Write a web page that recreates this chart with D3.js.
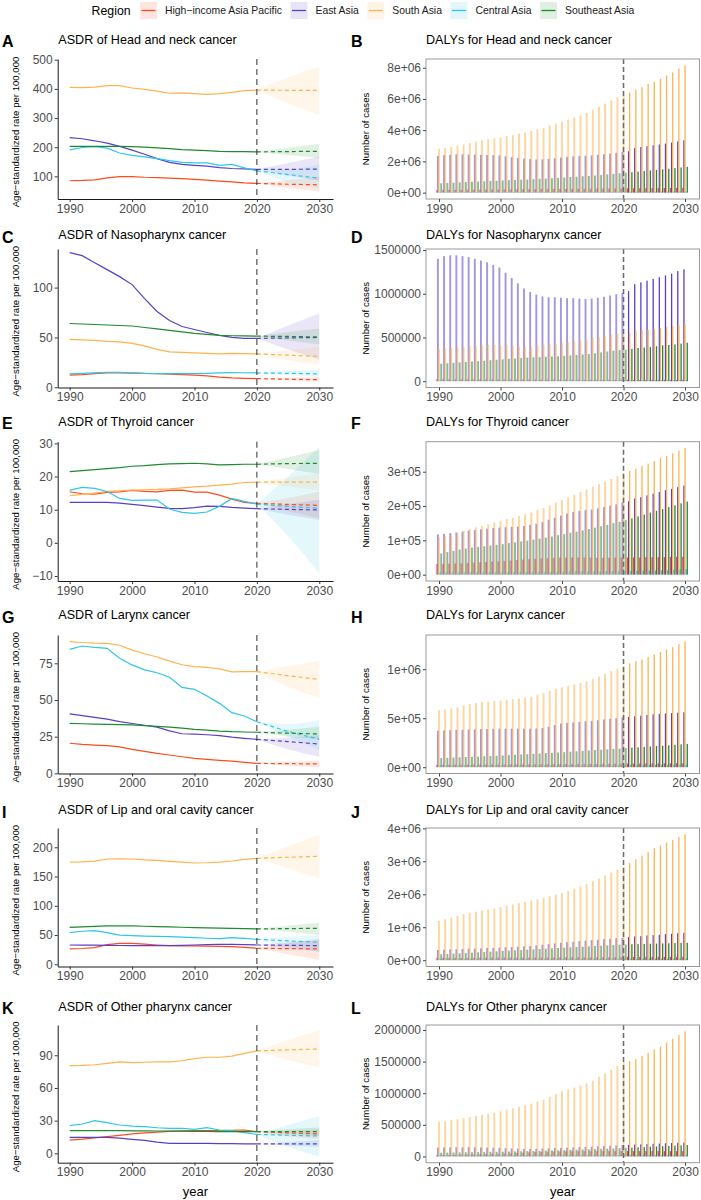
<!DOCTYPE html>
<html><head><meta charset="utf-8">
<script src="https://cdn.jsdelivr.net/npm/d3@7"></script>
<style>
body{margin:0;background:#fff}
text{font-family:"Liberation Sans",Arial,Helvetica,sans-serif}
</style>
</head><body>
<svg id="c" width="701" height="1200"></svg>
<script>
// ================= DATA =================
const regions = ["High−income Asia Pacific", "East Asia", "South Asia", "Central Asia", "Southeast Asia"];
const regionColors = ["#FF4A1F", "#5B3FC6", "#FFB24F", "#2EC6EA", "#1E8B2F"];
const histYears = [1990,1992,1994,1996,1998,2000,2002,2004,2006,2008,2010,2012,2014,2016,2018,2020];
const forecastYears = [2020, 2025, 2030];
const barYears = d3.range(1990, 2031);
const splitYear = 2020;

const lineTitles = ["ASDR of Head and neck cancer","ASDR of Nasopharynx cancer","ASDR of Thyroid cancer","ASDR of Larynx cancer","ASDR of Lip and oral cavity cancer","ASDR of Other pharynx cancer"];
const barTitles = ["DALYs for Head and neck cancer","DALYs for Nasopharynx cancer","DALYs for Thyroid cancer","DALYs for Larynx cancer","DALYs for Lip and oral cavity cancer","DALYs for Other pharynx cancer"];
const leftLetters = ["A","C","E","G","I","K"];
const rightLetters = ["B","D","F","H","J","L"];

const xTickValues = [1990, 2000, 2010, 2020, 2030];
const lineYTicks = [[100,200,300,400,500],[0,50,100],[-10,0,10,20,30],[0,25,50,75],[0,50,100,150,200],[0,30,60,90]];
const lineYDomains = [[22.4,502.4],[-0.2,138.7],[-11.5,30.5],[-0.1,94.3],[-3.8,233],[-8.6,117.8]];
const barYTicks = [[0,2e6,4e6,6e6,8e6],[0,5e5,1e6,1.5e6],[0,1e5,2e5,3e5],[0,5e5,1e6],[0,1e6,2e6,3e6,4e6],[0,5e5,1e6,1.5e6,2e6]];
const barTickLabels = [["0e+00","2e+06","4e+06","6e+06","8e+06"],["0","500000","1000000","1500000"],["0e+00","1e+05","2e+05","3e+05"],["0e+00","5e+05","1e+06"],["0e+00","1e+06","2e+06","3e+06","4e+06"],["0","500000","1000000","1500000","2000000"]];
const barUnits = [1e6, 1e6, 1e5, 1e5, 1e6, 1e5];

// ASDR observed (rows: HIAP, East Asia, South Asia, Central Asia, Southeast Asia), at histYears
const asdrHeadNeck = [
 [85,86,88,95,99,99,97,96,94,92,90,87,84,81,78,76],
 [233,229,222,214,203,190,176,161,148,141,138,135,130,127,126,124],
 [405,404,406,411,411,403,398,392,385,386,384,381,384,388,394,396],
 [191,199,202,197,180,172,167,161,154,148,146,146,138,141,129,119],
 [203,203,203,203,203,202,200,198,195,192,190,188,186,185,185,184]];
const asdrNaso = [
 [12.3,12.8,13.8,14.5,14.5,14.3,14.0,13.6,13.2,12.8,12.2,11.4,10.3,9.5,9.0,8.7],
 [135,132,125,118,111,103,89,76,67,61,58,55,52,50,49,49],
 [48,47.5,47,46,45.5,44,41.5,38,35.5,35,34.5,34,33.5,34,33.8,33.5],
 [13.5,14,14.5,15,15,14.5,14,13.8,13.7,13.7,13.7,14,14.5,14.8,14.6,14.4],
 [64,63.5,63,62.5,62,61.5,60,58.5,57,55.5,54,53,52,51.7,51.5,51.3]];
const asdrThyroid = [
 [15.4,14.8,14.7,15.2,15.4,15.8,15.5,15.4,15.8,15.9,15.3,15.3,14.4,13.2,12.2,11.9],
 [12.2,12.2,12.2,12.2,12.0,11.6,11.2,10.8,10.4,10.3,10.6,11.1,11.0,10.7,10.5,10.3],
 [14.2,14.6,15.0,15.5,15.7,15.9,16.0,16.1,16.3,16.6,16.9,17.1,17.4,17.7,18.2,18.3],
 [15.9,16.7,16.4,15.5,13.4,12.8,12.9,12.9,10.2,9.2,8.9,9.3,11.0,13.4,12.5,11.7],
 [21.5,21.8,22.1,22.4,22.7,23.1,23.3,23.6,23.8,23.9,24.0,23.8,23.5,23.6,23.7,23.7]];
const asdrLarynx = [
 [20.5,19.8,19.3,18.9,18.0,16.4,15.0,13.6,12.5,11.3,10.2,9.5,8.9,8.3,7.5,6.8],
 [40.5,39.3,38.2,36.9,35.3,34.0,32.8,31.5,29.0,27.0,26.8,26.3,25.7,24.7,23.9,23.2],
 [89.8,89.2,88.8,88.6,87.3,84.0,81.5,79.3,76.5,74.0,72.7,72.3,71.2,69.2,69.3,69.3],
 [84.5,86.8,85.9,85.2,78.4,73.9,70.5,68.6,65.5,58.6,57.3,52.7,47.7,41.4,39.1,35.2],
 [34,33.8,33.6,33.4,33.2,33.0,32.5,32.0,31.5,30.8,30.0,29.4,28.8,28.4,28.2,28.0]];
const asdrLipOral = [
 [26.2,27,28.5,33.5,35.9,35.9,34.5,33,31.9,31.5,31.3,31,30.6,30.2,28.8,27.4],
 [33,32.8,32.6,32.3,32.1,31.9,31.9,31.9,31.9,32.4,33,33.6,34.2,34.0,33.5,33],
 [174.4,175.2,176.5,180,180.3,180,178.5,177.5,176,174.8,173.2,173.6,174.5,176.6,179.5,181.2],
 [54,56.5,57.5,54,50,49,48.2,47.6,47.2,46.4,45.6,44.5,43.8,45.6,44.4,42.7],
 [63.2,64,64.8,65.5,65.5,65.5,65,64.4,63.8,63.3,62.7,62.2,61.7,61.3,60.9,60.4]];
const asdrOtherPharynx = [
 [12.2,13.0,14.2,15.3,16.5,17.8,18.7,19.5,20.2,20.6,20.8,20.8,20.8,21.0,21.4,19.9],
 [14.7,14.7,14.7,14.7,14.0,12.9,11.9,10.3,9.2,9.2,9.2,9.1,9.0,8.9,8.7,8.6],
 [80.5,80.7,81.3,82.5,83.9,83.3,83.6,84.0,84.0,85,86.9,88.2,88.2,89.2,91.8,94],
 [25.4,26.9,30,28.2,26,24.9,24.5,23.5,23,23,22,23.6,21.4,20.8,19,17.4],
 [20.8,20.8,20.8,20.8,20.8,20.7,20.6,20.5,20.4,20.3,20.2,20.1,20.0,20.0,20.0,19.9]];

// ASDR forecast mean / lower / upper at 2025 and 2030
const fcHeadNeck = [[73,71],[124,125],[395,395],[106,94],[185,186]];
const loHeadNeck = [[60,48],[102,85],[350,310],[80,58],[173,163]];
const hiHeadNeck = [[87,98],[146,168],[440,477],[124,140],[198,212]];
const fcNaso = [[8.1,7.6],[49.5,50],[32.2,31],[14,13.5],[51,50.5]];
const loNaso = [[7,5.5],[38,28],[27,22.5],[12,10.5],[47,43]];
const hiNaso = [[9.3,10],[62,74],[37,41],[16,17.5],[55.5,59]];
const fcThyroid = [[11.6,11.3],[10.1,9.9],[18.3,18.3],[11.0,10.4],[23.9,24]];
const loThyroid = [[9.5,7.4],[8.5,6.9],[17,15.8],[2,-9.2],[22.3,20.8]];
const hiThyroid = [[13.5,15.4],[11.7,13],[19.6,21],[20,29],[25.8,28]];
const fcLarynx = [[6.6,6.4],[21.6,20],[66.5,64],[28.5,23.2],[27.4,26.8]];
const loLarynx = [[5.3,4.1],[16.5,11.4],[59,51.8],[25,16],[25.2,23.4]];
const hiLarynx = [[7.8,8.6],[24.5,26],[73,76.8],[33.5,36.4],[29.8,31.8]];
const fcLipOral = [[26.8,26.2],[32.4,31.9],[183,184.6],[40,37.6],[61,61.5]];
const loLipOral = [[17,7.4],[27,21.6],[164,147],[31,21.6],[55.5,50]];
const hiLipOral = [[36,44],[37.5,41.6],[202,221],[47,50],[66,71]];
const fcOtherPharynx = [[18.8,17.8],[8.6,8.6],[95,95.8],[16.6,15.9],[19.9,19.9]];
const loOtherPharynx = [[15.5,12.9],[7.2,6.1],[86,79],[6,-3],[17.8,15.9]];
const hiOtherPharynx = [[21,22],[10.3,12.2],[104,113],[26,33.7],[22,23.6]];

// DALYs, 1990..2030 (in barUnits)
const dalyHeadNeck = [
 [0.17,0.17,0.18,0.18,0.18,0.19,0.19,0.19,0.2,0.2,0.2,0.21,0.21,0.21,0.22,0.22,0.22,0.23,0.23,0.23,0.24,0.24,0.24,0.25,0.25,0.25,0.26,0.26,0.26,0.27,0.27,0.27,0.28,0.28,0.28,0.29,0.29,0.29,0.3,0.3,0.3],
 [2.35,2.4,2.43,2.45,2.45,2.44,2.43,2.42,2.41,2.4,2.38,2.33,2.27,2.22,2.18,2.15,2.12,2.13,2.16,2.2,2.25,2.29,2.32,2.34,2.36,2.38,2.42,2.46,2.5,2.55,2.6,2.65,2.85,2.92,2.97,3.03,3.08,3.14,3.2,3.28,3.35],
 [2.8,2.85,2.92,3.0,3.08,3.17,3.27,3.35,3.42,3.48,3.55,3.62,3.68,3.78,3.85,3.95,4.05,4.15,4.3,4.42,4.55,4.68,4.82,4.95,5.1,5.3,5.5,5.7,5.9,6.1,6.25,6.4,6.6,6.75,6.95,7.1,7.3,7.5,7.7,7.95,8.15],
 [0.05,0.05,0.05,0.05,0.05,0.05,0.05,0.05,0.05,0.05,0.05,0.05,0.05,0.05,0.05,0.05,0.05,0.05,0.05,0.05,0.05,0.05,0.05,0.06,0.06,0.06,0.06,0.06,0.06,0.06,0.06,0.06,0.06,0.06,0.06,0.06,0.07,0.07,0.07,0.07,0.07],
 [0.6,0.62,0.64,0.66,0.68,0.7,0.71,0.73,0.75,0.76,0.78,0.8,0.81,0.83,0.84,0.86,0.88,0.9,0.92,0.95,0.97,1.0,1.02,1.05,1.07,1.1,1.13,1.17,1.2,1.24,1.28,1.31,1.35,1.38,1.42,1.45,1.49,1.53,1.57,1.61,1.65]];
const dalyNaso = [
 [0.022,0.022,0.022,0.022,0.021,0.021,0.021,0.021,0.02,0.02,0.02,0.02,0.019,0.019,0.019,0.019,0.018,0.018,0.018,0.018,0.017,0.017,0.017,0.017,0.017,0.016,0.016,0.016,0.016,0.016,0.016,0.016,0.015,0.015,0.015,0.015,0.015,0.015,0.015,0.015,0.015],
 [1.4,1.43,1.44,1.44,1.43,1.42,1.4,1.38,1.36,1.33,1.3,1.24,1.18,1.12,1.06,1.02,0.99,0.97,0.96,0.96,0.955,0.95,0.95,0.945,0.94,0.945,0.955,0.965,0.98,0.995,1.01,1.03,1.11,1.13,1.15,1.17,1.19,1.21,1.23,1.26,1.28],
 [0.37,0.375,0.38,0.385,0.39,0.4,0.405,0.41,0.415,0.415,0.41,0.41,0.405,0.395,0.39,0.395,0.405,0.415,0.425,0.43,0.44,0.445,0.455,0.47,0.48,0.495,0.505,0.52,0.53,0.54,0.55,0.555,0.575,0.585,0.59,0.6,0.61,0.62,0.63,0.64,0.65],
 [0.012,0.012,0.012,0.012,0.012,0.012,0.012,0.012,0.012,0.012,0.012,0.012,0.012,0.012,0.012,0.012,0.012,0.012,0.012,0.012,0.012,0.012,0.012,0.012,0.012,0.012,0.012,0.012,0.012,0.012,0.012,0.012,0.012,0.012,0.012,0.012,0.012,0.012,0.012,0.012,0.012],
 [0.2,0.205,0.21,0.215,0.22,0.225,0.23,0.235,0.24,0.245,0.25,0.255,0.26,0.265,0.27,0.273,0.276,0.28,0.283,0.286,0.29,0.295,0.3,0.305,0.31,0.32,0.33,0.34,0.35,0.355,0.36,0.37,0.38,0.385,0.39,0.4,0.41,0.415,0.42,0.43,0.44]];
const dalyThyroid = [
 [0.31,0.31,0.32,0.33,0.33,0.34,0.35,0.36,0.37,0.38,0.39,0.4,0.41,0.43,0.44,0.45,0.46,0.47,0.48,0.49,0.5,0.5,0.5,0.5,0.5,0.5,0.49,0.49,0.49,0.5,0.5,0.5,0.5,0.5,0.51,0.51,0.51,0.51,0.52,0.52,0.52],
 [1.17,1.19,1.21,1.23,1.25,1.28,1.3,1.32,1.34,1.36,1.37,1.38,1.39,1.4,1.42,1.45,1.48,1.53,1.6,1.66,1.72,1.78,1.83,1.86,1.88,1.9,1.93,1.97,2.01,2.05,2.1,2.14,2.22,2.26,2.31,2.36,2.41,2.46,2.5,2.55,2.6],
 [1.08,1.12,1.17,1.22,1.28,1.33,1.38,1.42,1.47,1.52,1.57,1.62,1.66,1.71,1.76,1.81,1.88,1.95,2.02,2.1,2.17,2.25,2.33,2.41,2.48,2.56,2.64,2.72,2.79,2.87,2.94,3.02,3.09,3.17,3.24,3.31,3.39,3.46,3.54,3.61,3.69],
 [0.07,0.07,0.07,0.07,0.07,0.07,0.07,0.07,0.07,0.07,0.07,0.07,0.07,0.07,0.08,0.08,0.08,0.08,0.08,0.08,0.08,0.09,0.09,0.09,0.09,0.09,0.09,0.1,0.1,0.1,0.1,0.11,0.11,0.11,0.12,0.12,0.13,0.13,0.14,0.15,0.16],
 [0.62,0.66,0.69,0.73,0.76,0.79,0.81,0.83,0.85,0.87,0.89,0.92,0.94,0.97,0.99,1.02,1.05,1.08,1.11,1.15,1.18,1.22,1.25,1.29,1.33,1.37,1.41,1.45,1.5,1.54,1.59,1.64,1.7,1.75,1.81,1.86,1.91,1.97,2.02,2.08,2.13]];
const dalyLarynx = [
 [0.25,0.25,0.25,0.26,0.26,0.26,0.27,0.27,0.27,0.28,0.28,0.28,0.29,0.29,0.29,0.3,0.3,0.3,0.31,0.31,0.31,0.32,0.32,0.33,0.33,0.34,0.34,0.35,0.35,0.36,0.36,0.37,0.37,0.38,0.38,0.38,0.39,0.39,0.39,0.4,0.4],
 [3.72,3.75,3.78,3.8,3.82,3.84,3.86,3.88,3.9,3.91,3.93,3.93,3.93,3.93,3.93,3.93,3.95,4.0,4.13,4.3,4.46,4.52,4.57,4.62,4.68,4.73,4.8,4.87,4.94,5.0,5.07,5.13,5.2,5.26,5.33,5.4,5.44,5.48,5.52,5.56,5.6],
 [5.8,5.9,6.0,6.1,6.3,6.45,6.55,6.65,6.7,6.75,6.8,6.9,6.95,7.0,7.1,7.2,7.4,7.6,7.8,8.0,8.15,8.3,8.45,8.6,8.75,9.0,9.25,9.5,9.8,10.05,10.3,10.6,10.8,11.0,11.25,11.5,11.75,12.0,12.25,12.55,12.85],
 [0.2,0.2,0.2,0.2,0.2,0.2,0.2,0.2,0.2,0.21,0.21,0.21,0.21,0.21,0.21,0.21,0.21,0.22,0.22,0.22,0.22,0.22,0.22,0.22,0.23,0.23,0.23,0.23,0.23,0.23,0.24,0.24,0.24,0.24,0.24,0.24,0.25,0.25,0.25,0.25,0.25],
 [0.94,0.96,0.99,1.01,1.04,1.06,1.09,1.12,1.14,1.17,1.2,1.23,1.27,1.3,1.33,1.37,1.4,1.44,1.47,1.51,1.54,1.58,1.62,1.66,1.7,1.74,1.78,1.82,1.86,1.9,1.95,1.99,2.03,2.07,2.11,2.16,2.2,2.24,2.29,2.33,2.38]];
const dalyLipOral = [
 [0.07,0.07,0.07,0.07,0.07,0.07,0.07,0.08,0.08,0.08,0.08,0.08,0.08,0.08,0.08,0.08,0.08,0.08,0.08,0.08,0.09,0.09,0.09,0.09,0.09,0.09,0.09,0.09,0.09,0.09,0.09,0.1,0.1,0.1,0.1,0.1,0.1,0.1,0.1,0.1,0.1],
 [0.31,0.32,0.33,0.33,0.34,0.35,0.35,0.36,0.37,0.37,0.38,0.39,0.4,0.41,0.42,0.43,0.45,0.47,0.49,0.51,0.53,0.55,0.56,0.58,0.59,0.61,0.62,0.64,0.65,0.67,0.68,0.7,0.72,0.73,0.75,0.76,0.77,0.79,0.8,0.82,0.83],
 [1.19,1.24,1.29,1.34,1.39,1.44,1.47,1.5,1.54,1.57,1.61,1.65,1.69,1.73,1.77,1.81,1.85,1.89,1.94,1.99,2.04,2.1,2.17,2.24,2.31,2.39,2.48,2.57,2.66,2.75,2.84,2.95,3.06,3.17,3.28,3.4,3.48,3.57,3.65,3.74,3.82],
 [0.05,0.05,0.05,0.05,0.05,0.05,0.05,0.05,0.05,0.05,0.05,0.05,0.05,0.05,0.05,0.05,0.05,0.05,0.05,0.05,0.05,0.05,0.05,0.05,0.05,0.05,0.05,0.05,0.05,0.05,0.05,0.05,0.05,0.05,0.05,0.05,0.05,0.05,0.05,0.05,0.05],
 [0.18,0.19,0.2,0.21,0.22,0.23,0.24,0.25,0.26,0.27,0.28,0.29,0.3,0.31,0.32,0.33,0.34,0.35,0.36,0.37,0.38,0.39,0.4,0.41,0.42,0.43,0.44,0.45,0.46,0.47,0.48,0.485,0.49,0.495,0.5,0.505,0.51,0.515,0.52,0.525,0.53]];
const dalyOtherPharynx = [
 [0.2,0.22,0.24,0.26,0.28,0.3,0.32,0.35,0.38,0.41,0.44,0.48,0.52,0.56,0.6,0.64,0.68,0.71,0.74,0.77,0.79,0.81,0.82,0.83,0.84,0.84,0.85,0.85,0.85,0.85,0.85,0.85,0.85,0.85,0.85,0.85,0.85,0.84,0.84,0.84,0.84],
 [1.4,1.42,1.44,1.45,1.45,1.45,1.44,1.42,1.4,1.38,1.35,1.3,1.26,1.22,1.2,1.2,1.22,1.25,1.28,1.32,1.35,1.39,1.43,1.47,1.51,1.55,1.6,1.65,1.7,1.75,1.8,1.84,1.88,1.92,1.96,2.0,2.04,2.08,2.12,2.16,2.2],
 [5.5,5.6,5.75,5.9,6.05,6.2,6.4,6.6,6.75,6.95,7.15,7.4,7.6,7.85,8.1,8.35,8.65,9.0,9.45,9.85,10.3,10.6,10.9,11.2,11.55,12.0,12.6,13.1,13.7,14.3,14.9,15.1,15.4,15.9,16.4,16.9,17.4,18.0,18.6,19.2,19.8],
 [0.25,0.25,0.25,0.25,0.25,0.25,0.25,0.24,0.24,0.24,0.24,0.24,0.24,0.23,0.23,0.23,0.23,0.23,0.23,0.22,0.22,0.22,0.22,0.22,0.22,0.21,0.21,0.21,0.21,0.21,0.21,0.21,0.2,0.2,0.2,0.2,0.2,0.2,0.2,0.2,0.2],
 [0.6,0.61,0.63,0.64,0.66,0.67,0.69,0.7,0.72,0.73,0.75,0.77,0.79,0.81,0.84,0.86,0.89,0.92,0.94,0.97,1.0,1.03,1.06,1.1,1.13,1.16,1.2,1.24,1.27,1.31,1.35,1.39,1.44,1.48,1.53,1.57,1.62,1.66,1.71,1.75,1.8]];

const asdrSets = [asdrHeadNeck, asdrNaso, asdrThyroid, asdrLarynx, asdrLipOral, asdrOtherPharynx];
const fcSets = [fcHeadNeck, fcNaso, fcThyroid, fcLarynx, fcLipOral, fcOtherPharynx];
const loSets = [loHeadNeck, loNaso, loThyroid, loLarynx, loLipOral, loOtherPharynx];
const hiSets = [hiHeadNeck, hiNaso, hiThyroid, hiLarynx, hiLipOral, hiOtherPharynx];
const dalySets = [dalyHeadNeck, dalyNaso, dalyThyroid, dalyLarynx, dalyLipOral, dalyOtherPharynx];

// ================= LAYOUT =================
const rowTitleY = [39.7, 235, 421.7, 615, 810, 1006.7];
const rowTop = [59, 249, 441.7, 635, 828, 1025];
const rowBottom = [199, 387.5, 581, 773.5, 966.5, 1162.7];
const leftX0 = 57.7, leftX1 = 333;
const rightX0 = 426, rightX1 = 699.5;
const tickColor = "#4D4D4D";
const tickFont = 12;

const svg = d3.select("#c");
const minus = v => (v < 0 ? "\u2212" + Math.abs(v) : String(v));

// Legend
(function legend(){
  const g = svg.append("g");
  g.append("text").attr("x", 91.6).attr("y", 15).attr("font-size", 12.3).attr("fill", "#000").text("Region");
  let x = 140;
  regions.forEach((r, i) => {
    g.append("rect").attr("x", x).attr("y", 2).attr("width", 17).attr("height", 17)
      .attr("fill", regionColors[i]).attr("fill-opacity", 0.14);
    g.append("line").attr("x1", x + 1.5).attr("x2", x + 15.5).attr("y1", 10.5).attr("y2", 10.5)
      .attr("stroke", regionColors[i]).attr("stroke-width", 1.3);
    const t = g.append("text").attr("x", x + 25).attr("y", 14.3).attr("font-size", 10.4).attr("fill", "#1a1a1a").text(r);
    x = x + 25 + t.node().getComputedTextLength() + 8.5;
  });
})();

function styleAxis(ax) {
  ax.selectAll("text").attr("font-size", tickFont).attr("fill", tickColor)
    .attr("font-family", '"Liberation Sans",Arial,sans-serif');
}

// Left (ASDR) panels
function drawLinePanel(k) {
  const top = rowTop[k], bot = rowBottom[k];
  const x = d3.scaleLinear().domain([1988.077, 2032.2]).range([leftX0, leftX1]);
  const y = d3.scaleLinear().domain(lineYDomains[k]).range([bot, top]);
  const g = svg.append("g");
  const hist = asdrSets[k], fc = fcSets[k], lo = loSets[k], hi = hiSets[k];

  regions.forEach((r, i) => {
    const last = hist[i][hist[i].length - 1];
    const pts = forecastYears.map((yr, j) => j === 0 ? {yr, lo: last, hi: last} : {yr, lo: lo[i][j-1], hi: hi[i][j-1]});
    g.append("path").datum(pts)
      .attr("d", d3.area().curve(d3.curveMonotoneX).x(d => x(d.yr)).y0(d => y(d.lo)).y1(d => y(d.hi)))
      .attr("fill", regionColors[i]).attr("fill-opacity", 0.13);
  });
  regions.forEach((r, i) => {
    const pts = histYears.map((yr, j) => ({yr, v: hist[i][j]}));
    g.append("path").datum(pts)
      .attr("d", d3.line().x(d => x(d.yr)).y(d => y(d.v)))
      .attr("fill", "none").attr("stroke", regionColors[i]).attr("stroke-width", 1.2);
  });
  regions.forEach((r, i) => {
    const last = hist[i][hist[i].length - 1];
    const pts = forecastYears.map((yr, j) => ({yr, v: j === 0 ? last : fc[i][j-1]}));
    g.append("path").datum(pts)
      .attr("d", d3.line().x(d => x(d.yr)).y(d => y(d.v)))
      .attr("fill", "none").attr("stroke", regionColors[i]).attr("stroke-width", 1.2)
      .attr("stroke-dasharray", "4,3");
  });
  g.append("line").attr("x1", x(splitYear)).attr("x2", x(splitYear)).attr("y1", top).attr("y2", bot)
    .attr("stroke", "#1a1a1a").attr("stroke-width", 0.9).attr("stroke-dasharray", "6,4");

  const ay = g.append("g").attr("transform", `translate(${leftX0},0)`)
    .call(d3.axisLeft(y).tickValues(lineYTicks[k]).tickFormat(minus).tickSize(3).tickPadding(2).tickSizeOuter(0));
  ay.select(".domain").attr("stroke", "#1a1a1a").attr("stroke-width", 1);
  ay.selectAll(".tick line").attr("stroke", "#333");
  styleAxis(ay);
  const ax = g.append("g").attr("transform", `translate(0,${bot})`)
    .call(d3.axisBottom(x).tickValues(xTickValues).tickFormat(d3.format("d")).tickSize(3).tickPadding(2).tickSizeOuter(0));
  ax.select(".domain").attr("stroke", "#1a1a1a").attr("stroke-width", 1);
  ax.selectAll(".tick line").attr("stroke", "#333");
  styleAxis(ax);

  svg.append("text").attr("x", 2).attr("y", rowTitleY[k] + 7.6).attr("font-size", 16).attr("font-weight", "bold").text(leftLetters[k]);
  svg.append("text").attr("x", 58.3).attr("y", rowTitleY[k] + 4.4).attr("font-size", 12.6).attr("fill", "#000").text(lineTitles[k]);
  svg.append("text").attr("transform", `translate(${19},${(top + bot) / 2 + 3}) rotate(-90)`)
    .attr("text-anchor", "middle").attr("font-size", 9.6).attr("fill", "#000").text("Age\u2212standardized rate per 100,000");
}

// Right (DALY) panels
function drawBarPanel(k) {
  const top = rowTop[k], bot = rowBottom[k];
  const unit = barUnits[k];
  const data = dalySets[k];
  const maxV = d3.max(data, s => d3.max(s)) * unit;
  const x = d3.scaleLinear().domain([1987.886, 2032.35]).range([rightX0, rightX1]);
  const y = d3.scaleLinear().domain([-0.05 * maxV, 1.05 * maxV]).range([bot, top]);
  const g = svg.append("g");
  const dodge = (x(1990.9) - x(1990)) / regions.length;

  regions.forEach((r, i) => {
    barYears.forEach((yr, j) => {
      const v = data[i][j] * unit;
      const hist = yr <= splitYear;
      const w = hist ? 1.9 : 1.3;
      const cx = x(yr) + (i - 2) * dodge;
      g.append("rect").attr("x", cx - w / 2).attr("width", w)
        .attr("y", y(v)).attr("height", Math.max(0, y(0) - y(v)))
        .attr("fill", regionColors[i]).attr("fill-opacity", hist ? 0.55 : 1);
    });
  });
  g.append("line").attr("x1", x(splitYear)).attr("x2", x(splitYear)).attr("y1", top).attr("y2", bot)
    .attr("stroke", "#6b6b6b").attr("stroke-width", 1.5).attr("stroke-dasharray", "5,3");
  g.append("rect").attr("x", rightX0).attr("y", top).attr("width", rightX1 - rightX0).attr("height", bot - top)
    .attr("fill", "none").attr("stroke", "#9a9a9a").attr("stroke-width", 1);

  const labels = barTickLabels[k];
  const ay = g.append("g").attr("transform", `translate(${rightX0},0)`)
    .call(d3.axisLeft(y).tickValues(barYTicks[k]).tickFormat((d, i) => labels[i]).tickSize(3).tickPadding(2).tickSizeOuter(0));
  ay.select(".domain").remove();
  ay.selectAll(".tick line").attr("stroke", "#444");
  styleAxis(ay);
  const ax = g.append("g").attr("transform", `translate(0,${bot})`)
    .call(d3.axisBottom(x).tickValues(xTickValues).tickFormat(d3.format("d")).tickSize(3).tickPadding(2).tickSizeOuter(0));
  ax.select(".domain").remove();
  ax.selectAll(".tick line").attr("stroke", "#444");
  styleAxis(ax);

  svg.append("text").attr("x", 351).attr("y", rowTitleY[k] + 7.6).attr("font-size", 16).attr("font-weight", "bold").text(rightLetters[k]);
  svg.append("text").attr("x", 426).attr("y", rowTitleY[k] + 4.4).attr("font-size", 12.6).attr("fill", "#000").text(barTitles[k]);
  svg.append("text").attr("transform", `translate(${368.5},${(top + bot) / 2}) rotate(-90)`)
    .attr("text-anchor", "middle").attr("font-size", 9.6).attr("fill", "#000").text("Number of cases");
}

for (let k = 0; k < 6; k++) { drawLinePanel(k); drawBarPanel(k); }

svg.append("text").attr("x", (leftX0 + leftX1) / 2).attr("y", 1196).attr("text-anchor", "middle").attr("font-size", 13).text("year");
svg.append("text").attr("x", (rightX0 + rightX1) / 2).attr("y", 1196).attr("text-anchor", "middle").attr("font-size", 13).text("year");
</script>
</body></html>
